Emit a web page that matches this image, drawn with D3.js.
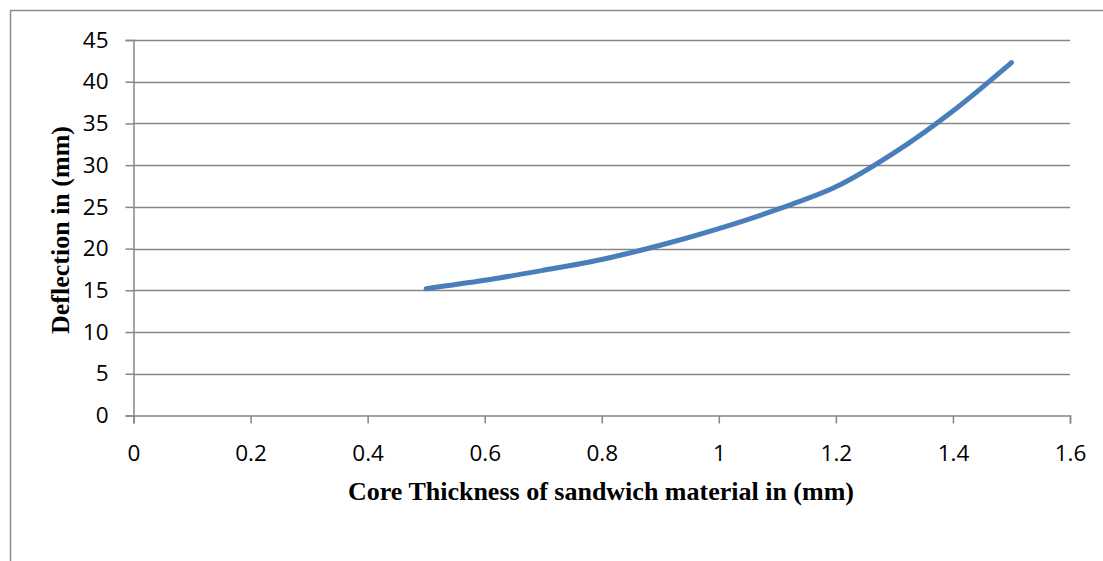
<!DOCTYPE html>
<html>
<head>
<meta charset="utf-8">
<script src="https://cdn.jsdelivr.net/npm/d3@7"></script>
<style>
  html, body { margin: 0; padding: 0; background: #fff; }
  svg { display: block; }
</style>
</head>
<body>
<svg id="chart" width="1103" height="561"></svg>
<script>
// Core thickness (mm) and the resulting deflection (mm)
const thickness = [0.5, 0.6, 0.7, 0.8, 0.9, 1.0, 1.1, 1.2, 1.3, 1.4, 1.5];
const deflection = [15.2, 16.2, 17.4, 18.7, 20.4, 22.4, 24.7, 27.4, 31.5, 36.5, 42.3];

const xTicks = [0, 0.2, 0.4, 0.6, 0.8, 1, 1.2, 1.4, 1.6];
const yTicks = [0, 5, 10, 15, 20, 25, 30, 35, 40, 45];

const xTitle = "Core Thickness of sandwich material in (mm)";
const yTitle = "Deflection in (mm)";

const svg = d3.select("#chart");
const gridColor = "#868686";
const tickFont = "'Open Sans', 'Noto Sans', sans-serif";
const titleFont = "'Liberation Serif', 'Times New Roman', serif";

// Chart frame
svg.append("rect")
  .attr("x", 10.5).attr("y", 10.5)
  .attr("width", 1200).attr("height", 700)
  .attr("fill", "none").attr("stroke", "#8c8c8c").attr("stroke-width", 1.5);

const plot = { left: 133.5, right: 1070, top: 40, bottom: 415.5 };

const x = d3.scaleLinear().domain([0, 1.6]).range([plot.left, plot.right]);
const y = d3.scaleLinear().domain([0, 45]).range([plot.bottom, plot.top]);

// Horizontal gridlines
svg.append("g")
  .selectAll("line")
  .data(yTicks.filter(d => d > 0))
  .join("line")
  .attr("x1", plot.left).attr("x2", plot.right)
  .attr("y1", d => Math.round(y(d)) + 0.5).attr("y2", d => Math.round(y(d)) + 0.5)
  .attr("stroke", gridColor).attr("stroke-width", 1.5);

// Y axis
const yAxis = svg.append("g")
  .attr("transform", `translate(${plot.left},0)`)
  .call(d3.axisLeft(y).tickValues(yTicks).tickFormat(d3.format("d")).tickSize(8).tickPadding(17));
yAxis.attr("font-size", null).attr("font-family", null);
yAxis.select(".domain").attr("stroke", gridColor).attr("stroke-width", 1.5);
yAxis.selectAll(".tick line").attr("stroke", gridColor).attr("stroke-width", 1.5);
yAxis.selectAll(".tick text")
  .style("font-family", tickFont)
  .style("font-size", "22.5px").attr("fill", "#000");

// X axis
const xAxis = svg.append("g")
  .attr("transform", `translate(0,${plot.bottom})`)
  .call(d3.axisBottom(x).tickValues(xTicks).tickFormat(d => String(d)).tickSize(8).tickPadding(18.5));
xAxis.attr("font-size", null).attr("font-family", null);
xAxis.select(".domain").attr("stroke", gridColor).attr("stroke-width", 1.5);
xAxis.selectAll(".tick line").attr("stroke", gridColor).attr("stroke-width", 1.5);
xAxis.selectAll(".tick text")
  .attr("dy", null)
  .attr("dominant-baseline", "hanging")
  .style("font-family", tickFont)
  .style("font-size", "22.5px").attr("fill", "#000");

// Data line (smoothed)
const pts = thickness.map((t, i) => [t, deflection[i]]);
svg.append("path")
  .datum(pts)
  .attr("fill", "none")
  .attr("stroke", "#4a7ebb")
  .attr("stroke-width", 5)
  .attr("stroke-linecap", "round")
  .attr("stroke-linejoin", "round")
  .attr("d", d3.line().x(d => x(d[0])).y(d => y(d[1])).curve(d3.curveCatmullRom.alpha(0.5)));

// Axis titles
svg.append("text")
  .attr("x", 601).attr("y", 500)
  .attr("text-anchor", "middle")
  .style("font-family", titleFont)
  .style("font-weight", "bold").style("font-size", "26px")
  .text(xTitle);

svg.append("text")
  .attr("transform", "translate(69,230) rotate(-90)")
  .attr("text-anchor", "middle")
  .style("font-family", titleFont)
  .style("font-weight", "bold").style("font-size", "26px")
  .text(yTitle);
</script>
</body>
</html>
